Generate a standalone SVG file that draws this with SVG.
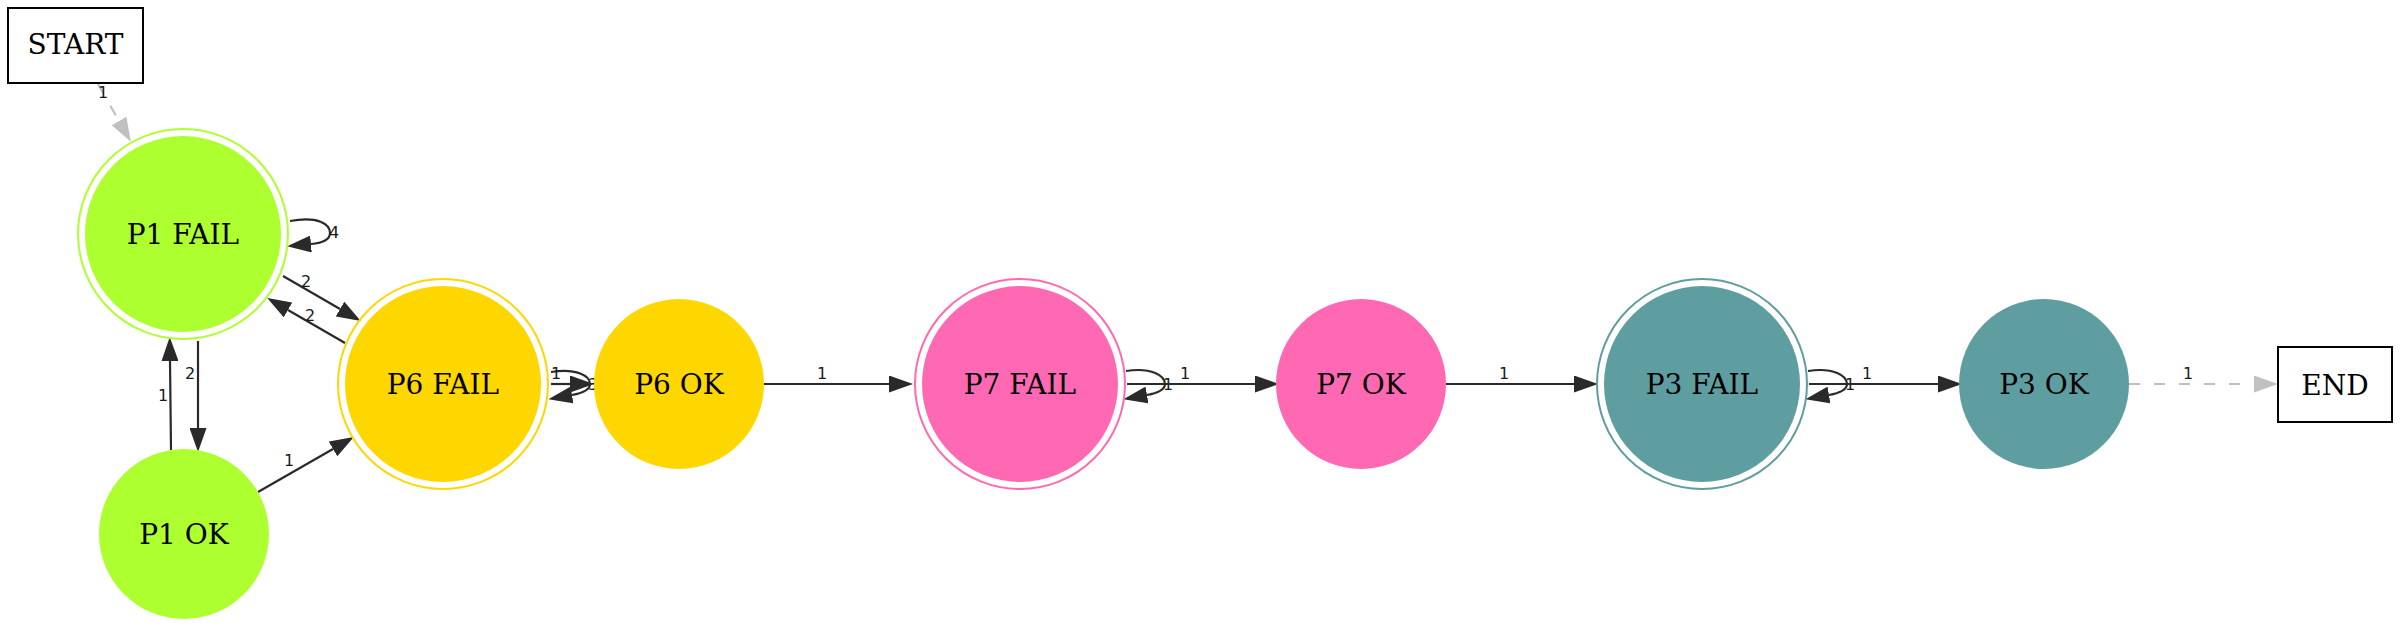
<svg xmlns="http://www.w3.org/2000/svg" width="2400" height="627" viewBox="0 0 2400 627">
<style>
.bg{fill:#ffffff}
.box{fill:#ffffff;stroke:#000000;stroke-width:2}
.lbl{font-family:"DejaVu Serif","Liberation Serif",serif;font-size:28px;fill:#000000;text-anchor:middle}
.e{fill:none;stroke:#2a2a2a;stroke-width:2.2}
.d{fill:none;stroke:#c0c0c0;stroke-width:2.2;stroke-dasharray:11,14}
.el{font-family:"DejaVu Sans","Liberation Sans",sans-serif;font-size:16px;fill:#1a1a1a;text-anchor:middle}
.ring{fill:none;stroke-width:2}
</style>
<defs>
<marker id="ah" viewBox="0 0 24 17" markerWidth="24" markerHeight="17" markerUnits="userSpaceOnUse" refX="0" refY="8.5" orient="auto">
<path d="M0,0 L24,8.5 L0,17 z" fill="#2a2a2a"/>
</marker>
<marker id="ahg" viewBox="0 0 24 17" markerWidth="24" markerHeight="17" markerUnits="userSpaceOnUse" refX="0" refY="8.5" orient="auto">
<path d="M0,0 L24,8.5 L0,17 z" fill="#c0c0c0"/>
</marker>
</defs>
<rect class="bg" x="0" y="0" width="2400" height="627"/>
<g id="connectors">
<path class="d" d="M98,84 L119,121" marker-end="url(#ahg)"/>
<text class="el" x="103" y="98">1</text>
<path class="e" d="M290,221 C318,216 330,224 330,233 C330,240 322,243 311,244" marker-end="url(#ah)"/>
<text class="el" x="334" y="238">4</text>
<path class="e" d="M283,276 L340,309" marker-end="url(#ah)"/>
<text class="el" x="306" y="287">2</text>
<path class="e" d="M345,343 L288,310" marker-end="url(#ah)"/>
<text class="el" x="310" y="321">2</text>
<path class="e" d="M171,450 L170,361" marker-end="url(#ah)"/>
<text class="el" x="163" y="401">1</text>
<path class="e" d="M198,341 L198,428" marker-end="url(#ah)"/>
<text class="el" x="190" y="379">2</text>
<path class="e" d="M258,492 L333,449" marker-end="url(#ah)"/>
<text class="el" x="289" y="466">1</text>
<path class="e" d="M551,372 C577,368 590,376 590,384 C590,390 583,393 572,395" marker-end="url(#ah)"/>
<text class="el" x="593" y="390">3</text>
<path class="e" d="M551,384 L570,384" marker-end="url(#ah)"/>
<text class="el" x="556" y="379">1</text>
<path class="e" d="M763,384 L889,384" marker-end="url(#ah)"/>
<text class="el" x="822" y="379">1</text>
<path class="e" d="M1126,371 C1152,367 1165,376 1165,384 C1165,390 1158,393 1147,395" marker-end="url(#ah)"/>
<text class="el" x="1168" y="390">1</text>
<path class="e" d="M1127,384 L1255,384" marker-end="url(#ah)"/>
<text class="el" x="1185" y="379">1</text>
<path class="e" d="M1446,384 L1574,384" marker-end="url(#ah)"/>
<text class="el" x="1504" y="379">1</text>
<path class="e" d="M1808,371 C1834,367 1847,376 1847,384 C1847,390 1840,393 1829,395" marker-end="url(#ah)"/>
<text class="el" x="1850" y="390">1</text>
<path class="e" d="M1809,384 L1938,384" marker-end="url(#ah)"/>
<text class="el" x="1867" y="379">1</text>
<path class="d" d="M2129,384 L2254,384" marker-end="url(#ahg)"/>
<text class="el" x="2188" y="379">1</text>
</g>
<g id="START">
<rect class="box" x="8" y="8" width="135" height="75"/>
<text class="lbl" x="75.5" y="54">START</text>
</g>
<g id="P1_FAIL">
<circle class="ring" cx="183" cy="234" r="105" stroke="#adff2f"/>
<circle cx="183" cy="234" r="98" fill="#adff2f"/>
<text class="lbl" x="183" y="244">P1 FAIL</text>
</g>
<g id="P1_OK">
<circle cx="184" cy="534" r="85" fill="#adff2f"/>
<text class="lbl" x="184" y="544">P1 OK</text>
</g>
<g id="P6_FAIL">
<circle class="ring" cx="443" cy="384" r="105" stroke="#ffd700"/>
<circle cx="443" cy="384" r="98" fill="#ffd700"/>
<text class="lbl" x="443" y="394">P6 FAIL</text>
</g>
<g id="P6_OK">
<circle cx="679" cy="384" r="85" fill="#ffd700"/>
<text class="lbl" x="679" y="394">P6 OK</text>
</g>
<g id="P7_FAIL">
<circle class="ring" cx="1020" cy="384" r="105" stroke="#ff69b4"/>
<circle cx="1020" cy="384" r="98" fill="#ff69b4"/>
<text class="lbl" x="1020" y="394">P7 FAIL</text>
</g>
<g id="P7_OK">
<circle cx="1361" cy="384" r="85" fill="#ff69b4"/>
<text class="lbl" x="1361" y="394">P7 OK</text>
</g>
<g id="P3_FAIL">
<circle class="ring" cx="1702" cy="384" r="105" stroke="#5f9ea0"/>
<circle cx="1702" cy="384" r="98" fill="#5f9ea0"/>
<text class="lbl" x="1702" y="394">P3 FAIL</text>
</g>
<g id="P3_OK">
<circle cx="2044" cy="384" r="85" fill="#5f9ea0"/>
<text class="lbl" x="2044" y="394">P3 OK</text>
</g>
<g id="END">
<rect class="box" x="2278" y="347" width="114" height="75"/>
<text class="lbl" x="2335" y="395">END</text>
</g>
</svg>
